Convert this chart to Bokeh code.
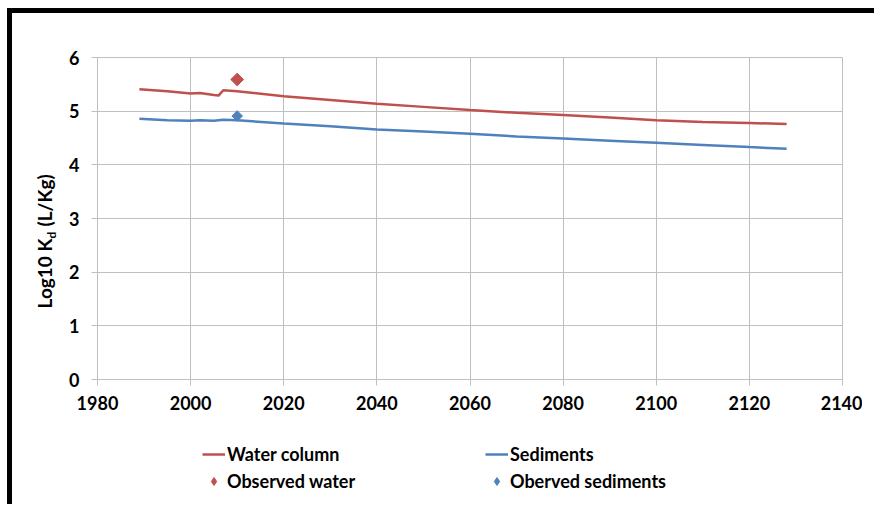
import math
from bokeh.plotting import figure
from bokeh.layouts import row, column
from bokeh.models import FixedTicker, Range1d, Label, Legend, LegendItem
from bokeh.embed import file_html
from bokeh.resources import INLINE

# ---- data ----
water_years = [1989, 1995, 2000, 2002, 2005, 2006, 2007, 2010, 2020, 2030, 2040, 2050,
               2060, 2070, 2080, 2090, 2100, 2110, 2120, 2128]
water_kd = [5.41, 5.37, 5.33, 5.34, 5.30, 5.29, 5.39, 5.37, 5.28, 5.21, 5.14, 5.08,
            5.02, 4.97, 4.93, 4.88, 4.83, 4.80, 4.78, 4.76]

sed_years = [1989, 1995, 2000, 2002, 2005, 2007, 2010, 2020, 2030, 2040, 2050,
             2060, 2070, 2080, 2090, 2100, 2110, 2120, 2128]
sed_kd = [4.86, 4.83, 4.82, 4.83, 4.82, 4.84, 4.83, 4.77, 4.72, 4.66, 4.62,
          4.58, 4.53, 4.49, 4.45, 4.41, 4.37, 4.33, 4.30]

obs_water_year = [2010]
obs_water_kd = [5.59]
obs_sed_year = [2010]
obs_sed_kd = [4.91]

x_ticks = [1980, 2000, 2020, 2040, 2060, 2080, 2100, 2120, 2140]
y_ticks = [0, 1, 2, 3, 4, 5, 6]

RED = "#C0504D"
BLUE = "#4F81BD"
GRID = "#BFBFBF"
FONT = "Lato"

LEFT, FRAME_W, RIGHT = 35, 745, 20
TOP, FRAME_H, BOTTOM = 44, 322, 45
LEG_H = 70
W = LEFT + FRAME_W + RIGHT
H = TOP + FRAME_H + BOTTOM + LEG_H


def add_series(fig, legend_style=False):
    r1 = fig.line(water_years, water_kd, line_color=RED, line_width=2.5)
    r2 = fig.line(sed_years, sed_kd, line_color=BLUE, line_width=2.5)
    if legend_style:
        r3 = fig.scatter(obs_water_year, obs_water_kd, marker="diamond", size=10,
                         fill_color=RED, line_color=RED)
        r4 = fig.scatter(obs_sed_year, obs_sed_kd, marker="diamond", size=10,
                         fill_color=BLUE, line_color=BLUE)
    else:
        r3 = fig.scatter(obs_water_year, obs_water_kd, marker="square", angle=math.pi / 4,
                         size=9, fill_color=RED, line_color=RED)
        r4 = fig.scatter(obs_sed_year, obs_sed_kd, marker="square", angle=math.pi / 4,
                         size=7.5, fill_color=BLUE, line_color=BLUE)
    return r1, r2, r3, r4


# ---- main chart ----
p = figure(frame_width=FRAME_W, frame_height=FRAME_H,
           min_border_left=LEFT, min_border_right=RIGHT, min_border_top=TOP,
           min_border_bottom=BOTTOM,
           x_range=Range1d(1980, 2140), y_range=Range1d(0, 6),
           output_backend="svg", toolbar_location=None)

p.outline_line_color = GRID
p.outline_line_width = 1

for ax in (p.xaxis, p.yaxis):
    ax.axis_line_color = GRID
    ax.major_tick_line_color = GRID
    ax.minor_tick_line_color = None
    ax.major_tick_in = 0
    ax.major_tick_out = 6
    ax.major_label_text_font = FONT
    ax.major_label_text_font_style = "bold"
    ax.major_label_text_font_size = "18px"
    ax.major_label_text_color = "#000000"

p.xaxis.ticker = FixedTicker(ticks=x_ticks)
p.yaxis.ticker = FixedTicker(ticks=y_ticks)
p.xaxis.major_label_standoff = 10
p.yaxis.major_label_standoff = 12

p.xgrid.ticker = FixedTicker(ticks=x_ticks)
p.ygrid.ticker = FixedTicker(ticks=y_ticks)
p.xgrid.grid_line_color = GRID
p.ygrid.grid_line_color = GRID

add_series(p)

# ---- legend strip below the chart (same series, ranges keep them out of view) ----
lf = figure(width=W, height=LEG_H, min_border=0, x_range=Range1d(0, W), y_range=Range1d(0, LEG_H),
            x_axis_type=None, y_axis_type=None, output_backend="svg", toolbar_location=None)
lf.outline_line_color = None
lf.xgrid.visible = False
lf.ygrid.visible = False
l_water, l_sed, l_obs_w, l_obs_s = add_series(lf, legend_style=True)

legend = Legend(items=[LegendItem(label="Water column", renderers=[l_water]),
                       LegendItem(label="Observed water", renderers=[l_obs_w]),
                       LegendItem(label="Sediments", renderers=[l_sed]),
                       LegendItem(label="Oberved sediments", renderers=[l_obs_s])],
                location=(105, 2), orientation="vertical", ncols=2,
                glyph_width=23, glyph_height=20, label_height=20, label_width=253,
                spacing=5, padding=0, margin=0, label_standoff=2,
                border_line_alpha=0, background_fill_alpha=0,
                label_text_font=FONT, label_text_font_style="bold",
                label_text_font_size="18px", label_text_color="#000000")
lf.add_layout(legend, "center")

# ---- y-axis title (with subscript) in a narrow companion figure ----
q = figure(width=50, height=H, min_border=0, x_range=Range1d(0, 50), y_range=Range1d(0, H),
           x_axis_type=None, y_axis_type=None, output_backend="svg", toolbar_location=None)
q.outline_line_color = None
q.xgrid.visible = False
q.ygrid.visible = False

q.add_layout(Label(x=32, y=186, text="Log10 K", angle=math.pi / 2,
                   text_align="left", text_baseline="middle", text_color="#000000",
                   text_font=FONT, text_font_style="bold", text_font_size="19px"))
q.add_layout(Label(x=39, y=256, text="d", angle=math.pi / 2,
                   text_align="left", text_baseline="middle", text_color="#000000",
                   text_font=FONT, text_font_style="bold", text_font_size="12px"))
q.add_layout(Label(x=32, y=268, text="(L/Kg)", angle=math.pi / 2,
                   text_align="left", text_baseline="middle", text_color="#000000",
                   text_font=FONT, text_font_style="bold", text_font_size="19px"))

layout = row(q, column(p, lf), styles={"border-left": "5px solid black",
                                       "border-top": "5px solid black",
                                       "margin-left": "7px", "margin-top": "8px",
                                       "padding-right": "12px", "padding-bottom": "10px"})

open("out.html", "w").write(file_html(layout, INLINE))
